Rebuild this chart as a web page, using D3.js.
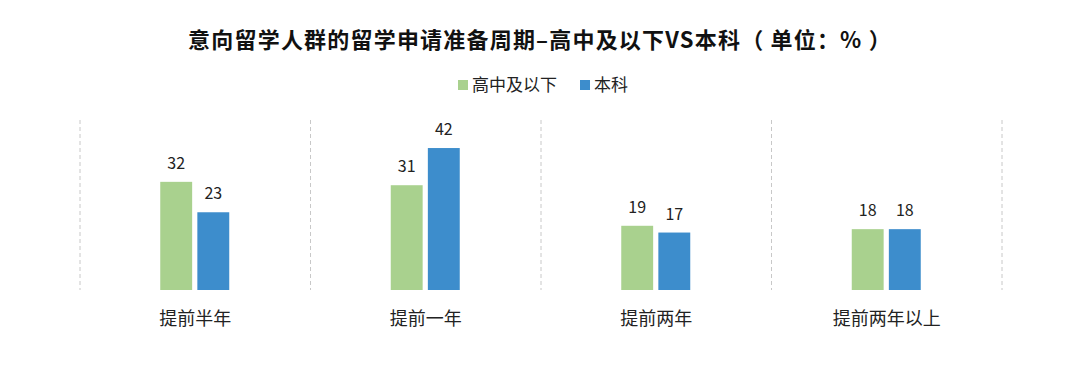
<!DOCTYPE html>
<html>
<head>
<meta charset="utf-8">
<script src="https://cdn.jsdelivr.net/npm/d3@7"></script>
<style>
  body { margin: 0; background: #fff; }
  svg { display: block; font-family: "Noto Sans CJK SC", "Noto Sans", sans-serif; }
</style>
</head>
<body>
<div id="chart"></div>
<script>
const categories = ['提前半年', '提前一年', '提前两年', '提前两年以上'];
const seriesNames = ['高中及以下', '本科'];
const highSchool = [32, 31, 19, 18];
const undergrad = [23, 42, 17, 18];
const colors = ['#a9d18e', '#3d8dcc'];

const width = 1080, height = 367;
const margin = { left: 80, right: 78, top: 120, bottom: 77 };

const svg = d3.select('#chart').append('svg')
  .attr('width', width)
  .attr('height', height);

svg.append('text')
  .attr('x', 540).attr('y', 48)
  .attr('text-anchor', 'middle')
  .attr('font-size', 22).attr('font-weight', 'bold')
  .attr('letter-spacing', 1.2)
  .attr('fill', '#111')
  .text('意向留学人群的留学申请准备周期–高中及以下VS本科（ 单位：% ）');

const x = d3.scaleBand()
  .domain(categories)
  .range([margin.left, width - margin.right]);

const x1 = d3.scaleBand()
  .domain(seriesNames)
  .range([0, 69])
  .paddingInner(0.14);

const y = d3.scaleLinear()
  .domain([0, 50])
  .range([height - margin.bottom, height - margin.bottom - 169]);

// dashed separators
const seps = categories.map(c => x(c)).concat([x(categories[categories.length - 1]) + x.bandwidth()]);
svg.selectAll('line.sep')
  .data(seps)
  .enter().append('line')
  .attr('class', 'sep')
  .attr('x1', d => d).attr('x2', d => d)
  .attr('y1', margin.top).attr('y2', height - margin.bottom)
  .attr('stroke', '#c8c8c8')
  .attr('stroke-width', 1)
  .attr('stroke-dasharray', '4,3');

const rows = categories.map((c, i) => ({ cat: c, values: [highSchool[i], undergrad[i]] }));

const groups = svg.selectAll('g.grp')
  .data(rows)
  .enter().append('g')
  .attr('class', 'grp')
  .attr('transform', d => `translate(${x(d.cat) + x.bandwidth() / 2 - 35},0)`);

groups.selectAll('rect')
  .data(d => d.values.map((v, j) => ({ name: seriesNames[j], v, j })))
  .enter().append('rect')
  .attr('x', d => x1(d.name))
  .attr('y', d => y(d.v))
  .attr('width', x1.bandwidth())
  .attr('height', d => y(0) - y(d.v))
  .attr('fill', d => colors[d.j]);

groups.selectAll('text.val')
  .data(d => d.values.map((v, j) => ({ name: seriesNames[j], v, j })))
  .enter().append('text')
  .attr('class', 'val')
  .attr('x', d => x1(d.name) + x1.bandwidth() / 2)
  .attr('y', d => y(d.v) - 13)
  .attr('text-anchor', 'middle')
  .attr('font-size', 16)
  .attr('fill', '#222')
  .text(d => d.v);

// category labels
svg.selectAll('text.cat')
  .data(categories)
  .enter().append('text')
  .attr('class', 'cat')
  .attr('x', d => x(d) + x.bandwidth() / 2)
  .attr('y', 325)
  .attr('text-anchor', 'middle')
  .attr('font-size', 18)
  .attr('fill', '#222')
  .text(d => d);

// legend
const legendX = [458, 580];
const legend = svg.selectAll('g.leg')
  .data(seriesNames)
  .enter().append('g')
  .attr('class', 'leg')
  .attr('transform', (d, i) => `translate(${legendX[i]},85)`);
legend.append('rect')
  .attr('x', 0).attr('y', -5)
  .attr('width', 10).attr('height', 10)
  .attr('fill', (d, i) => colors[i]);
legend.append('text')
  .attr('x', 14).attr('y', 6)
  .attr('font-size', 17)
  .attr('fill', '#222')
  .text(d => d);
</script>
</body>
</html>
